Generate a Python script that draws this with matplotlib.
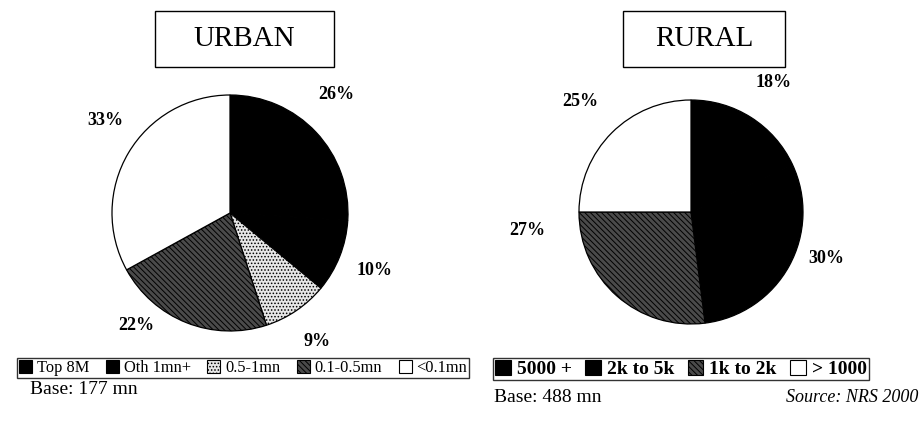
import numpy as np
import matplotlib.pyplot as plt
from matplotlib.patches import Patch, Rectangle

# urban town classes, share of readers (%)
urban_labels = ['Top 8M', 'Oth 1mn+', '0.5-1mn', '0.1-0.5mn', '<0.1mn']
urban_share = [26, 10, 9, 22, 33]

# rural village classes, share of readers (%)
rural_labels = ['5000 +', '2k to 5k', '1k to 2k', '> 1000']
rural_share = [18, 30, 27, 25]

urban_base = 'Base: 177 mn'
rural_base = 'Base: 488 mn'
source = 'Source: NRS 2000'

W, H = 924, 425
plt.rcParams['font.family'] = ['Liberation Serif', 'DejaVu Serif']
plt.rcParams['hatch.linewidth'] = 0.7

urban_style = [('black', ''), ('black', ''), ('#e6e6e6', '.....'),
               ('#4a4a4a', '\\\\\\\\\\\\'), ('white', '')]
rural_style = [('black', ''), ('black', ''), ('#4a4a4a', '\\\\\\\\\\\\'),
               ('white', '')]

# label tweaks: (angle shift in degrees, distance in radii)
urban_lab = [(5, 1.35), (0, 1.32), (0, 1.32), (-18, 1.24), (-6, 1.32)]
rural_lab = [(0, 1.37), (10, 1.28), (-42, 1.47), (0, 1.40)]


def px_axes(fig, cx, cy, r):
    return fig.add_axes([(cx - r) / W, (H - cy - r) / H, 2 * r / W, 2 * r / H])


def draw_pie(ax, share, style, lab):
    wedges, _ = ax.pie(share, startangle=90, counterclock=False,
                       colors=[s[0] for s in style],
                       wedgeprops=dict(edgecolor='black', linewidth=0.9))
    for w, (fc, h) in zip(wedges, style):
        w.set_hatch(h)
    for w, v, (da, d) in zip(wedges, share, lab):
        a = np.radians((w.theta1 + w.theta2) / 2 + da)
        ax.text(d * np.cos(a), d * np.sin(a), f'{v}%', ha='center',
                va='center', fontsize=13, fontweight='bold')
    ax.set_xlim(-1, 1)
    ax.set_ylim(-1, 1)
    ax.set_aspect('equal')
    ax.axis('off')


def title_box(fig, text, x0, x1, y0, y1):
    fig.patches.append(Rectangle((x0 / W, 1 - y1 / H), (x1 - x0) / W,
                                 (y1 - y0) / H, transform=fig.transFigure,
                                 fill=False, edgecolor='black', linewidth=1.0))
    fig.text((x0 + x1) / 2 / W, 1 - (y0 + y1) / 2 / H, text, ha='center',
             va='center', fontsize=21)


fig = plt.figure(figsize=(W / 100, H / 100), dpi=100)
fig.patch.set_facecolor('white')

ax1 = px_axes(fig, 230, 213, 118)
draw_pie(ax1, urban_share, urban_style, urban_lab)
ax2 = px_axes(fig, 691, 212, 112)
draw_pie(ax2, rural_share, rural_style, rural_lab)

title_box(fig, 'URBAN', 155, 334, 11, 67)
title_box(fig, 'RURAL', 623, 785, 11, 67)

leg_kw = dict(ncol=5, frameon=True, fancybox=False, edgecolor='black',
              handlelength=0.8, handleheight=0.8, handletextpad=0.3,
              columnspacing=1.0, borderpad=0.12, borderaxespad=0)

h1 = [Patch(facecolor=fc, hatch=h, edgecolor='black', linewidth=0.8)
      for fc, h in urban_style]
lg1 = fig.legend(h1, urban_labels, loc='center', bbox_to_anchor=(243 / W, 1 - 368 / H),
                 prop=dict(size=11.8), **leg_kw)
lg1.get_frame().set_linewidth(1.0)

h2 = [Patch(facecolor=fc, hatch=h, edgecolor='black', linewidth=0.8)
      for fc, h in rural_style]
leg_kw['ncol'] = 4
leg_kw['columnspacing'] = 0.7
lg2 = fig.legend(h2, rural_labels, loc='center', bbox_to_anchor=(681 / W, 1 - 369 / H),
                 prop=dict(size=14, weight='bold'), **leg_kw)
lg2.get_frame().set_linewidth(1.0)

fig.text(30 / W, 1 - 390 / H, urban_base, ha='left', va='center', fontsize=14)
fig.text(494 / W, 1 - 397 / H, rural_base, ha='left', va='center', fontsize=14)
fig.text(918 / W, 1 - 397 / H, source, ha='right', va='center', fontsize=13,
         style='italic')

fig.savefig('out.png', dpi=100, facecolor='white')
